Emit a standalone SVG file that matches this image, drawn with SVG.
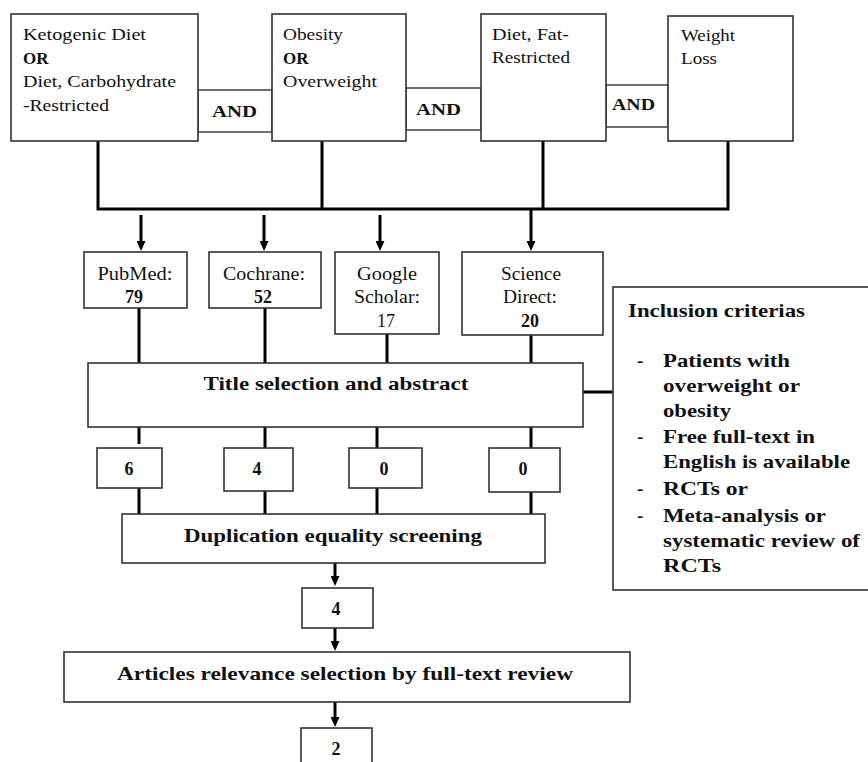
<svg xmlns="http://www.w3.org/2000/svg" width="868" height="762" viewBox="0 0 868 762">
<style>
.box{fill:#fff;stroke:#333;stroke-width:1.6}
.and{fill:#fff;stroke:#333;stroke-width:1.4}
.t{font-family:"Liberation Serif","Times New Roman",serif;fill:#111}
.r17{font-size:17px}
.r18{font-size:18px}
.b{font-weight:bold}
.b17{font-size:17px;font-weight:bold}
.b18{font-size:18px;font-weight:bold}
.b19{font-size:19px;font-weight:bold}
.c{text-anchor:middle}
.ln{fill:none;stroke:#000;stroke-width:3}
.ar{fill:none;stroke:#000;stroke-width:3;marker-end:url(#ah)}
</style>
<defs>
<marker id="ah" markerUnits="userSpaceOnUse" markerWidth="10" markerHeight="9" refX="4" refY="4.5" orient="auto">
<path d="M0,0 L10,4.5 L0,9 z" fill="#000"/>
</marker>
</defs>
<rect width="868" height="762" fill="#fff"/>

<g id="connectors">
<path class="ln" d="M98,141 V209 H728 V141 M322,141 V209 M543,141 V209"/>
<path class="ar" d="M141,215 V245"/>
<path class="ar" d="M264,215 V245"/>
<path class="ar" d="M380,215 V245"/>
<path class="ar" d="M531,209 V245"/>
<path class="ln" d="M139,308 V363 M265,308 V363 M387,334 V363 M531,335 V363"/>
<path class="ln" d="M139,427 V444 M265,427 V448 M377,427 V448 M531,427 V448"/>
<path class="ln" d="M139,488 V514 M265,491 V514 M377,488 V514 M531,492 V514"/>
<path class="ar" d="M335,563 V580"/>
<path class="ar" d="M335,628 V645"/>
<path class="ar" d="M335,702 V721"/>
<path class="ln" d="M583,392 H613"/>
</g>

<g id="and1"><rect class="and" x="198" y="90" width="74" height="42"/><text class="t b17" x="212" y="117" textLength="45" lengthAdjust="spacingAndGlyphs">AND</text></g>
<g id="and2"><rect class="and" x="406" y="88" width="75" height="42"/><text class="t b17" x="416" y="115" textLength="45" lengthAdjust="spacingAndGlyphs">AND</text></g>
<g id="and3"><rect class="and" x="606" y="85" width="62" height="42"/><text class="t b17" x="612" y="110" textLength="43" lengthAdjust="spacingAndGlyphs">AND</text></g>

<g id="kd">
<rect class="box" x="11" y="14" width="187" height="127"/>
<text class="t r17" x="23" y="40" textLength="123" lengthAdjust="spacingAndGlyphs">Ketogenic  Diet</text>
<text class="t b17" x="23" y="64">OR</text>
<text class="t r17" x="23" y="87" textLength="153" lengthAdjust="spacingAndGlyphs">Diet, Carbohydrate</text>
<text class="t r17" x="23" y="111" textLength="86" lengthAdjust="spacingAndGlyphs">-Restricted</text>
</g>
<g id="ob">
<rect class="box" x="272" y="14" width="134" height="127"/>
<text class="t r17" x="283" y="40" textLength="60" lengthAdjust="spacingAndGlyphs">Obesity</text>
<text class="t b17" x="283" y="64">OR</text>
<text class="t r17" x="283" y="87" textLength="94" lengthAdjust="spacingAndGlyphs">Overweight</text>
</g>
<g id="fr">
<rect class="box" x="481" y="14" width="125" height="127"/>
<text class="t r17" x="492" y="40" textLength="77" lengthAdjust="spacingAndGlyphs">Diet, Fat-</text>
<text class="t r17" x="492" y="63" textLength="78" lengthAdjust="spacingAndGlyphs">Restricted</text>
</g>
<g id="wl">
<rect class="box" x="668" y="16" width="125" height="125"/>
<text class="t r17" x="681" y="41" textLength="54" lengthAdjust="spacingAndGlyphs">Weight</text>
<text class="t r17" x="681" y="64" textLength="36" lengthAdjust="spacingAndGlyphs">Loss</text>
</g>

<g id="pubmed">
<rect class="box" x="84" y="252" width="103" height="56"/>
<text class="t r18 c" x="135" y="280" textLength="75" lengthAdjust="spacingAndGlyphs">PubMed:</text>
<text class="t b18 c" x="134" y="303">79</text>
</g>
<g id="cochrane">
<rect class="box" x="209" y="252" width="112" height="56"/>
<text class="t r18 c" x="264" y="280" textLength="82" lengthAdjust="spacingAndGlyphs">Cochrane:</text>
<text class="t b18 c" x="263" y="303">52</text>
</g>
<g id="google">
<rect class="box" x="335" y="252" width="104" height="82"/>
<text class="t r18 c" x="387" y="280" textLength="60" lengthAdjust="spacingAndGlyphs">Google</text>
<text class="t r18 c" x="387" y="303" textLength="66" lengthAdjust="spacingAndGlyphs">Scholar:</text>
<text class="t r18 c" x="386" y="327">17</text>
</g>
<g id="science">
<rect class="box" x="462" y="252" width="141" height="83"/>
<text class="t r18 c" x="531" y="280" textLength="60" lengthAdjust="spacingAndGlyphs">Science</text>
<text class="t r18 c" x="530" y="303" textLength="54" lengthAdjust="spacingAndGlyphs">Direct:</text>
<text class="t b18 c" x="530" y="327">20</text>
</g>

<g id="title">
<rect class="box" x="88" y="363" width="495" height="64"/>
<text class="t b19 c" x="336" y="390" textLength="265" lengthAdjust="spacingAndGlyphs">Title selection and abstract</text>
</g>

<g id="n6"><rect class="box" x="97" y="448" width="65" height="40"/><text class="t b18 c" x="129" y="475">6</text></g>
<g id="n4a"><rect class="box" x="224" y="448" width="69" height="43"/><text class="t b18 c" x="257" y="475">4</text></g>
<g id="n0a"><rect class="box" x="349" y="448" width="73" height="40"/><text class="t b18 c" x="384" y="475">0</text></g>
<g id="n0b"><rect class="box" x="489" y="448" width="71" height="44"/><text class="t b18 c" x="523" y="475">0</text></g>

<g id="dup">
<rect class="box" x="122" y="514" width="423" height="49"/>
<text class="t b19 c" x="333" y="542" textLength="298" lengthAdjust="spacingAndGlyphs">Duplication equality screening</text>
</g>

<g id="n4b"><rect class="box" x="302" y="588" width="71" height="40"/><text class="t b18 c" x="336" y="615">4</text></g>

<g id="articles">
<rect class="box" x="64" y="652" width="566" height="50"/>
<text class="t b19 c" x="345" y="680" textLength="456" lengthAdjust="spacingAndGlyphs">Articles relevance selection by full-text review</text>
</g>

<g id="n2"><rect class="box" x="301" y="728" width="71" height="40"/><text class="t b18 c" x="336" y="755">2</text></g>

<g id="inclusion">
<rect class="box" x="613" y="287" width="260" height="303"/>
<text class="t b19" x="628" y="317" textLength="177" lengthAdjust="spacingAndGlyphs">Inclusion criterias</text>
<text class="t b19" x="637" y="367">-</text>
<text class="t b19" x="663" y="367" textLength="127" lengthAdjust="spacingAndGlyphs">Patients with</text>
<text class="t b19" x="663" y="392" textLength="137" lengthAdjust="spacingAndGlyphs">overweight or</text>
<text class="t b19" x="663" y="417" textLength="68" lengthAdjust="spacingAndGlyphs">obesity</text>
<text class="t b19" x="637" y="443">-</text>
<text class="t b19" x="663" y="443" textLength="152" lengthAdjust="spacingAndGlyphs">Free full-text in</text>
<text class="t b19" x="663" y="468" textLength="187" lengthAdjust="spacingAndGlyphs">English is available</text>
<text class="t b19" x="637" y="495">-</text>
<text class="t b19" x="663" y="495" textLength="85" lengthAdjust="spacingAndGlyphs">RCTs or</text>
<text class="t b19" x="637" y="522">-</text>
<text class="t b19" x="663" y="522" textLength="163" lengthAdjust="spacingAndGlyphs">Meta-analysis or</text>
<text class="t b19" x="663" y="547" textLength="197" lengthAdjust="spacingAndGlyphs">systematic review of</text>
<text class="t b19" x="663" y="572" textLength="58" lengthAdjust="spacingAndGlyphs">RCTs</text>
</g>
</svg>
